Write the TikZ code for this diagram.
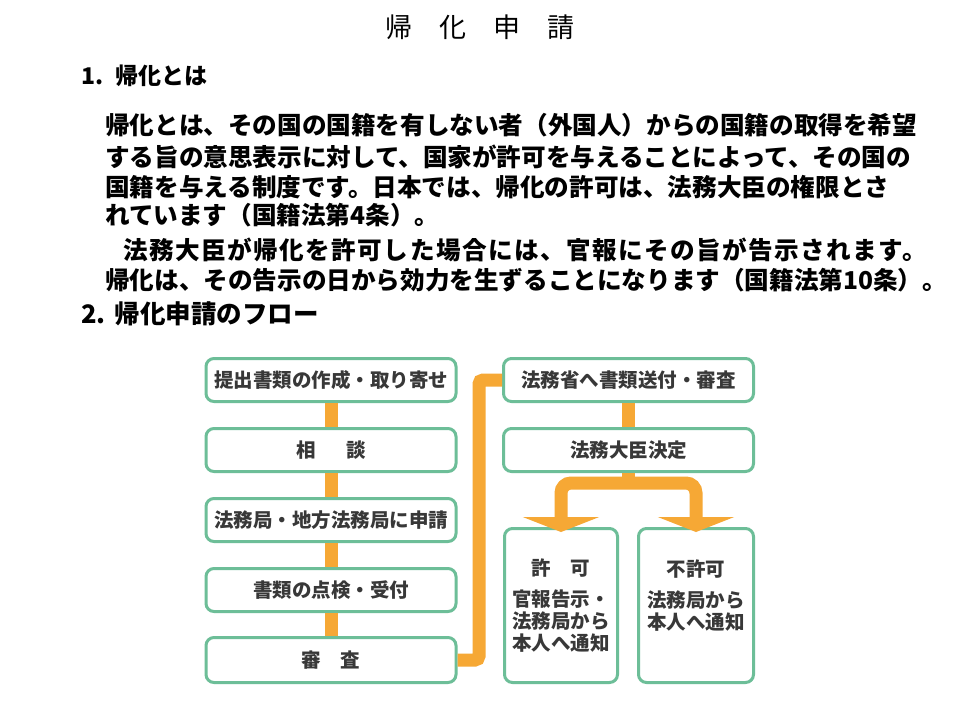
\documentclass[tikz,border=0pt]{standalone}
\usepackage{fontspec}
\usepackage{tikz}
\usetikzlibrary{positioning,arrows.meta,calc}
\setmainfont{Noto Sans CJK JP}
\newfontfamily\jpfont{Noto Sans CJK JP}
\definecolor{boxgreen}{RGB}{109,190,152}
\definecolor{floworange}{RGB}{246,168,53}
\definecolor{boxtext}{RGB}{56,56,56}

\begin{document}
\begin{tikzpicture}[x=1pt, y=-1pt]
    \tikzstyle{heading} = [anchor=west, inner sep=0pt, font=\jpfont\bfseries\fontsize{23}{26}\selectfont]
    \tikzstyle{body} = [anchor=west, inner sep=0pt, font=\jpfont\bfseries\fontsize{24.6}{30}\selectfont]
    \tikzstyle{stepbox} = [rectangle, rounded corners=8pt, draw=boxgreen, line width=3pt, fill=white, minimum width=250pt, minimum height=43pt, inner sep=0pt, align=center, text=boxtext, font=\jpfont\bfseries\fontsize{19.5}{22}\selectfont]
    \tikzstyle{conn} = [draw=floworange, line width=13pt]

    \fill[white] (0,0) rectangle (960,720);
    \useasboundingbox (0,0) rectangle (960,720);

    % Title and text
    \node [font=\jpfont\fontsize{27}{30}\selectfont, inner sep=0pt] (title) at (480,27) {帰　化　申　請};
    \node [heading] (h1) at (81,76) {1.\hspace{12pt}帰化とは};
    \node [body] (l1) at (105,125) {帰化とは、その国の国籍を有しない者（外国人）からの国籍の取得を希望};
    \node [body] (l2) at (105,157) {する旨の意思表示に対して、国家が許可を与えることによって、その国の};
    \node [body] (l3) at (105,187) {国籍を与える制度です。日本では、帰化の許可は、法務大臣の権限とさ};
    \node [body] (l4) at (105,215) {れています（国籍法第4条）。};
    \node [body] (l5) at (123,250) {\addfontfeatures{LetterSpace=6}法務大臣が帰化を許可した場合には、官報にその旨が告示されます。};
    \node [body] (l6) at (105,280) {帰化は、その告示の日から効力を生ずることになります（国籍法第10条）。};
    \node [heading, font=\jpfont\bfseries\fontsize{25.5}{28}\selectfont] (h2) at (81,314) {2.\hspace{9pt}帰化申請のフロー};

    % Left column
    \node [stepbox] (prepare) at (331,380) {提出書類の作成・取り寄せ};
    \node [stepbox, below=24pt of prepare] (consult) {相\hspace{31pt}談};
    \node [stepbox, below=24pt of consult] (apply) {法務局・地方法務局に申請};
    \node [stepbox, below=24pt of apply] (check) {書類の点検・受付};
    \node [stepbox, below=23pt of check, minimum height=45pt] (review) {審　査};

    % Right column
    \node [stepbox] (ministry) at (628.5,380) {法務省へ書類送付・審査};
    \node [stepbox, below=24pt of ministry] (decide) {法務大臣決定};
    \node [stepbox, minimum width=113pt, minimum height=154pt] (grant) at (561,605.5) {許　可\\[9pt]官報告示・\\法務局から\\本人へ通知};
    \node [stepbox, minimum width=115pt, minimum height=154pt] (deny) at (696,605.5) {不許可\\[9pt]法務局から\\本人へ通知\\ };

    % Connectors
    \draw [conn] (prepare) -- (consult);
    \draw [conn] (consult) -- (apply);
    \draw [conn] (apply) -- (check);
    \draw [conn] (check) -- (review);
    \draw [conn, rounded corners=4pt] (review.east) -- ++(21.5,0) |- (ministry.west);
    \draw [conn] (ministry) -- (decide);
    \coordinate (fork) at ($(decide.south)+(0,10)$);
    \draw [conn] (decide.south) -- (fork);
    \draw [conn, rounded corners=10pt, {Triangle[width=76pt,length=15pt]}-{Triangle[width=76pt,length=15pt]}] ($(grant.north)+(0,5)$) |- (fork) -| ($(deny.north)+(0,5)$);
\end{tikzpicture}
\end{document}
